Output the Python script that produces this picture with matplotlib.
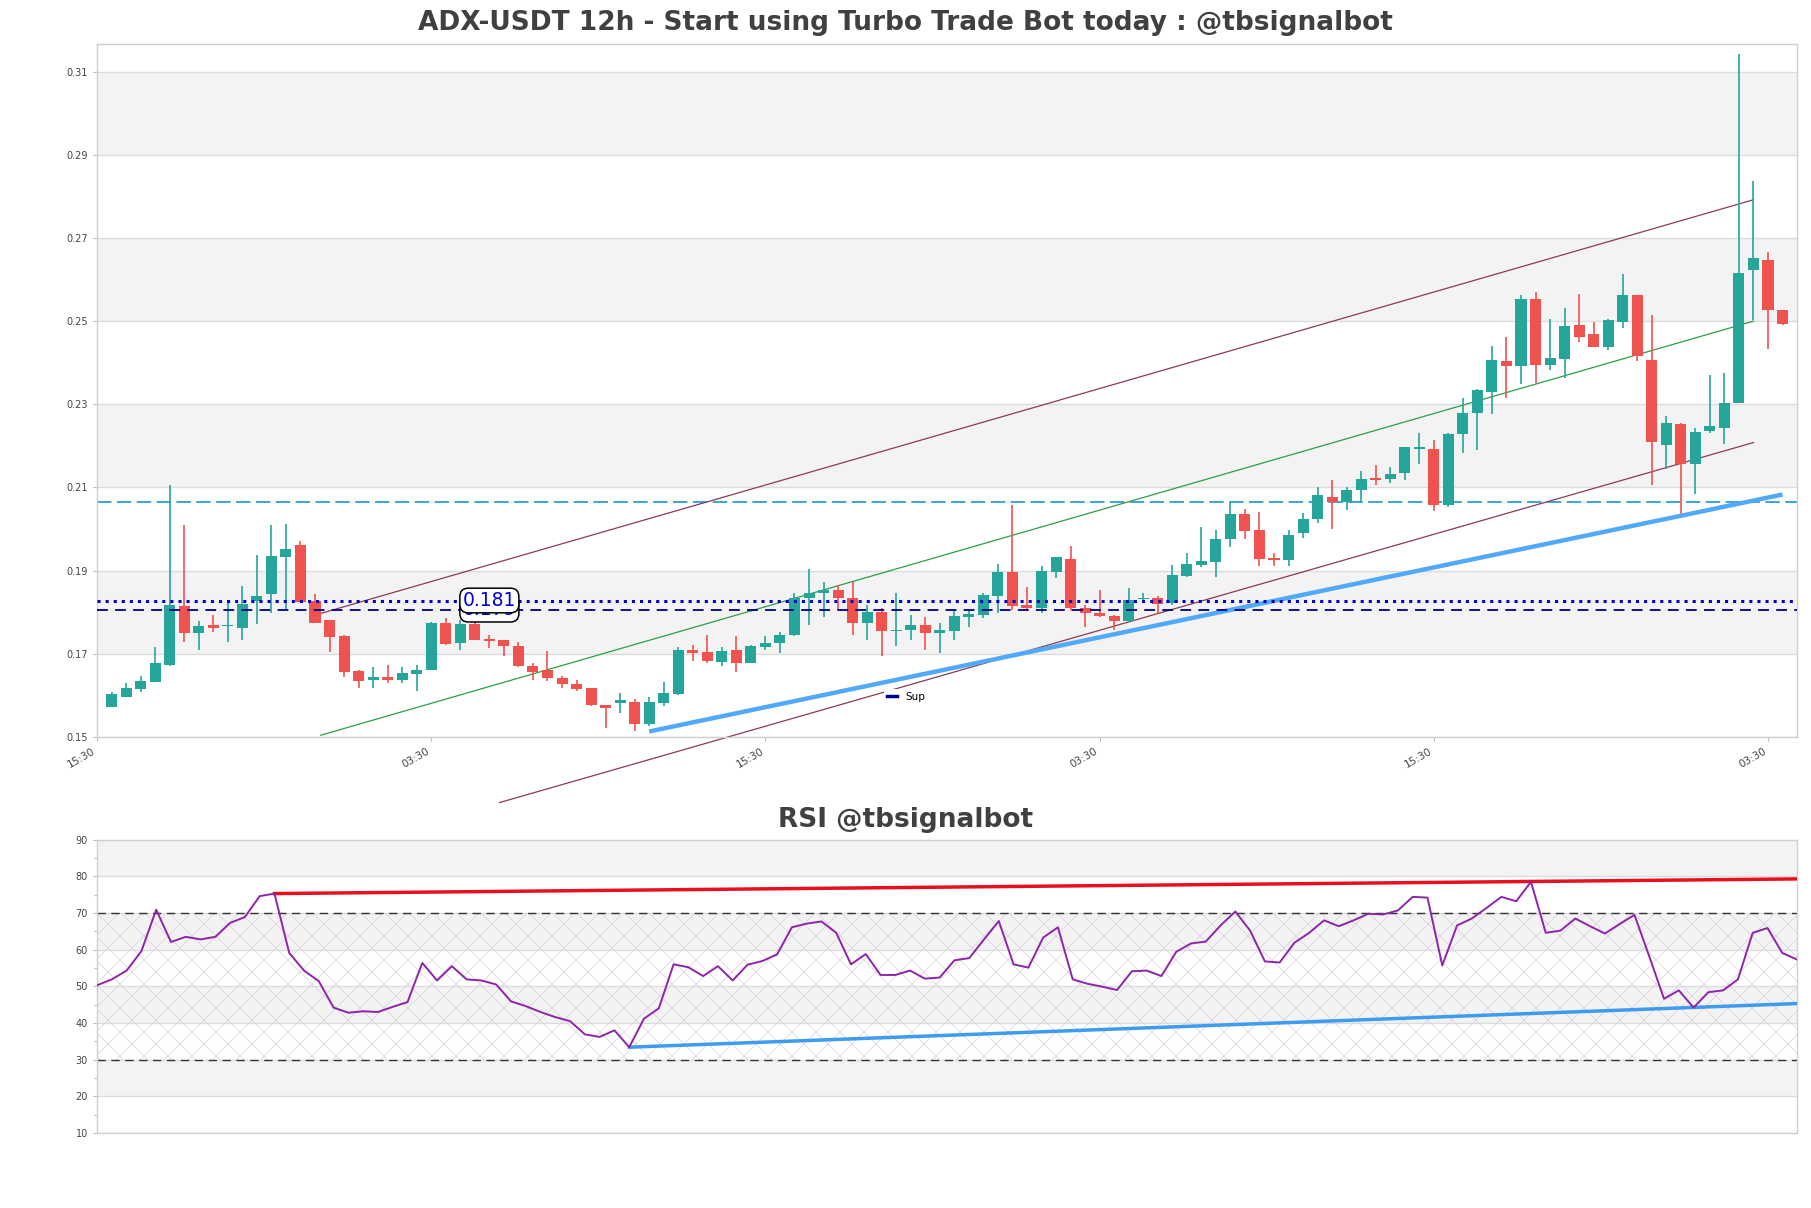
import numpy as np
import matplotlib.pyplot as plt

# 12h candles
opens = [0.1571, 0.1595, 0.1614, 0.1633, 0.1673, 0.1814, 0.1750, 0.1769, 0.1767, 0.1762,
         0.1826, 0.1844, 0.1933, 0.1961, 0.1826, 0.1781, 0.1742, 0.1658, 0.1638, 0.1643,
         0.1638, 0.1651, 0.1661, 0.1773, 0.1726, 0.1771, 0.1735, 0.1733, 0.1718, 0.1671,
         0.1661, 0.1641, 0.1627, 0.1618, 0.1577, 0.1581, 0.1583, 0.1531, 0.1582, 0.1603,
         0.1710, 0.1703, 0.1681, 0.1709, 0.1678, 0.1717, 0.1726, 0.1745, 0.1833, 0.1845,
         0.1853, 0.1833, 0.1773, 0.1801, 0.1755, 0.1758, 0.1769, 0.1751, 0.1755, 0.1789,
         0.1793, 0.1839, 0.1897, 0.1817, 0.1810, 0.1897, 0.1929, 0.1810, 0.1799, 0.1791,
         0.1778, 0.1831, 0.1835, 0.1821, 0.1886, 0.1913, 0.1921, 0.1977, 0.2037, 0.1997,
         0.1930, 0.1926, 0.1990, 0.2025, 0.2077, 0.2065, 0.2094, 0.2121, 0.2121, 0.2134,
         0.2193, 0.2193, 0.2057, 0.2228, 0.2278, 0.2330, 0.2403, 0.2391, 0.2553, 0.2395,
         0.2409, 0.2491, 0.2469, 0.2439, 0.2499, 0.2563, 0.2406, 0.2203, 0.2252, 0.2157,
         0.2236, 0.2244, 0.2302, 0.2622, 0.2647, 0.2527]
highs = [0.1609, 0.1629, 0.1646, 0.1715, 0.2107, 0.2009, 0.1778, 0.1793, 0.1830, 0.1862,
         0.1937, 0.2009, 0.2011, 0.1970, 0.1843, 0.1781, 0.1746, 0.1662, 0.1667, 0.1673,
         0.1669, 0.1673, 0.1777, 0.1785, 0.1782, 0.1781, 0.1745, 0.1733, 0.1729, 0.1677,
         0.1707, 0.1646, 0.1638, 0.1618, 0.1577, 0.1606, 0.1590, 0.1597, 0.1633, 0.1717,
         0.1720, 0.1745, 0.1715, 0.1742, 0.1721, 0.1742, 0.1753, 0.1845, 0.1905, 0.1873,
         0.1865, 0.1873, 0.1817, 0.1810, 0.1845, 0.1793, 0.1789, 0.1773, 0.1805, 0.1805,
         0.1845, 0.1915, 0.2057, 0.1861, 0.1911, 0.1933, 0.1958, 0.1817, 0.1853, 0.1794,
         0.1859, 0.1846, 0.1838, 0.1913, 0.1943, 0.2006, 0.1997, 0.2065, 0.2049, 0.2041,
         0.1942, 0.1997, 0.2038, 0.2102, 0.2118, 0.2101, 0.2139, 0.2155, 0.2149, 0.2198,
         0.2230, 0.2214, 0.2230, 0.2314, 0.2336, 0.2441, 0.2461, 0.2563, 0.2569, 0.2505,
         0.2532, 0.2565, 0.2497, 0.2505, 0.2614, 0.2563, 0.2515, 0.2272, 0.2256, 0.2243,
         0.2370, 0.2375, 0.3142, 0.2837, 0.2666, 0.2527]
lows = [0.1571, 0.1595, 0.1609, 0.1633, 0.1671, 0.1729, 0.1709, 0.1753, 0.1729, 0.1733,
        0.1771, 0.1798, 0.1807, 0.1825, 0.1773, 0.1705, 0.1643, 0.1617, 0.1618, 0.1629,
        0.1630, 0.1611, 0.1661, 0.1721, 0.1709, 0.1733, 0.1713, 0.1694, 0.1669, 0.1637,
        0.1635, 0.1618, 0.1611, 0.1574, 0.1522, 0.1558, 0.1513, 0.1525, 0.1574, 0.1601,
        0.1683, 0.1678, 0.1670, 0.1657, 0.1678, 0.1710, 0.1701, 0.1742, 0.1769, 0.1789,
        0.1805, 0.1746, 0.1734, 0.1695, 0.1718, 0.1734, 0.1710, 0.1702, 0.1734, 0.1765,
        0.1787, 0.1798, 0.1806, 0.1803, 0.1797, 0.1883, 0.1802, 0.1765, 0.1789, 0.1758,
        0.1777, 0.1825, 0.1797, 0.1818, 0.1885, 0.1909, 0.1885, 0.1957, 0.1975, 0.1911,
        0.1911, 0.1911, 0.1979, 0.2014, 0.2001, 0.2046, 0.2062, 0.2105, 0.2110, 0.2117,
        0.2157, 0.2043, 0.2054, 0.2183, 0.2191, 0.2277, 0.2314, 0.2350, 0.2352, 0.2383,
        0.2364, 0.2451, 0.2437, 0.2431, 0.2483, 0.2405, 0.2105, 0.2145, 0.2029, 0.2085,
        0.2232, 0.2204, 0.2302, 0.2503, 0.2434, 0.2491]
closes = [0.1603, 0.1617, 0.1634, 0.1677, 0.1817, 0.1750, 0.1766, 0.1762, 0.1769, 0.1819,
          0.1840, 0.1934, 0.1951, 0.1825, 0.1774, 0.1741, 0.1657, 0.1635, 0.1643, 0.1638,
          0.1653, 0.1662, 0.1775, 0.1723, 0.1771, 0.1733, 0.1731, 0.1718, 0.1670, 0.1657,
          0.1641, 0.1627, 0.1616, 0.1577, 0.1570, 0.1589, 0.1531, 0.1583, 0.1605, 0.1710,
          0.1702, 0.1683, 0.1707, 0.1678, 0.1718, 0.1727, 0.1746, 0.1834, 0.1845, 0.1853,
          0.1833, 0.1774, 0.1801, 0.1755, 0.1758, 0.1769, 0.1751, 0.1757, 0.1790, 0.1795,
          0.1841, 0.1897, 0.1815, 0.1810, 0.1898, 0.1933, 0.1810, 0.1798, 0.1791, 0.1779,
          0.1830, 0.1835, 0.1819, 0.1889, 0.1915, 0.1922, 0.1977, 0.2037, 0.1995, 0.1929,
          0.1926, 0.1986, 0.2025, 0.2081, 0.2065, 0.2095, 0.2121, 0.2119, 0.2133, 0.2197,
          0.2197, 0.2058, 0.2229, 0.2278, 0.2334, 0.2406, 0.2391, 0.2553, 0.2395, 0.2411,
          0.2489, 0.2463, 0.2439, 0.2503, 0.2563, 0.2415, 0.2209, 0.2256, 0.2157, 0.2234,
          0.2248, 0.2302, 0.2615, 0.2652, 0.2527, 0.2493]

rsi = [50.3, 51.9, 54.3, 59.6, 70.9, 62.1, 63.5, 62.8, 63.5, 67.3,
       68.9, 74.6, 75.3, 59.1, 54.3, 51.4, 44.2, 42.8, 43.2, 43.0,
       44.4, 45.7, 56.4, 51.6, 55.5, 51.9, 51.6, 50.5, 45.9, 44.6,
       43.0, 41.6, 40.5, 36.9, 36.2, 38.0, 33.4, 41.2, 44.0, 56.0,
       55.2, 52.8, 55.5, 51.6, 55.9, 56.9, 58.7, 66.1, 67.1, 67.7,
       64.6, 56.0, 58.8, 53.1, 53.1, 54.3, 52.1, 52.4, 57.1, 57.7,
       62.8, 67.8, 56.0, 55.1, 63.3, 66.1, 51.9, 50.7, 49.9, 49.0,
       54.1, 54.3, 52.8, 59.4, 61.7, 62.2, 66.6, 70.4, 65.2, 56.8,
       56.5, 61.9, 64.6, 68.0, 66.4, 68.0, 69.8, 69.6, 70.7, 74.4,
       74.2, 55.7, 66.6, 68.5, 71.4, 74.4, 73.2, 78.5, 64.6, 65.2,
       68.5, 66.4, 64.4, 67.0, 69.5, 58.2, 46.6, 48.9, 44.2, 48.4,
       48.9, 51.9, 64.6, 65.9, 59.1, 57.3]

tick_pos = [-1, 22, 45, 68, 91, 114]
tick_labels = ['15:30', '03:30', '15:30', '03:30', '15:30', '03:30']

# levels and trend lines
res_level = 0.2064
dot_level = 0.1828
sup_level = 0.1806
chan_x = [14.4, 113.0]
chan_upper = [0.1797, 0.2792]
chan_mid = [0.1504, 0.2500]
low_x = [26.7, 113.0]
chan_lower = [0.1342, 0.2208]
sup_x = [37.0, 115.0]
sup_y = [0.1513, 0.2083]
rsi_res_x = [12, 115]
rsi_res_y = [75.3, 79.3]
rsi_sup_x = [36, 115]
rsi_sup_y = [33.4, 45.3]

# figure is saved at 72 dpi (finer hatch), so point sizes are scaled by S
DPI = 72
S = 100 / DPI
plt.rcParams['hatch.linewidth'] = 0.45 * S
up_col = '#26a69a'
dn_col = '#ef5350'
grid_col = '#dcdcdc'
band_col = '#f3f3f3'

o = np.array(opens); h = np.array(highs); l = np.array(lows); c = np.array(closes)
n = len(o)
x = np.arange(n)
cols = [up_col if cc >= oo else dn_col for oo, cc in zip(o, c)]

fig = plt.figure(figsize=(1811 / DPI, 1208 / DPI), dpi=DPI)
ax = fig.add_axes([0.0536, 0.390, 0.9387, 0.5737])
ax2 = fig.add_axes([0.0536, 0.0621, 0.9387, 0.2428])

# ---- price panel
for lo in [0.17, 0.21, 0.25, 0.29]:
    ax.axhspan(lo, lo + 0.02, color=band_col, zorder=0, lw=0)
ax.vlines(x, l, h, color=cols, lw=1.2 * S, zorder=3)
ax.bar(x, np.maximum(np.abs(c - o), 0.0003), bottom=np.minimum(o, c), width=0.76,
       color=cols, zorder=4)

ax.axhline(res_level, color='#2a9fd6', lw=1.3 * S, ls=(0, (8, 3)), zorder=2)
ax.axhline(dot_level, color='#0000cd', lw=2.2 * S, ls=':', zorder=5)
ax.axhline(sup_level, color='#00008b', lw=1.3 * S, ls=(0, (6, 4)), zorder=5, label='Sup')

ax.plot(chan_x, chan_upper, color='#8b3a52', lw=0.9 * S, zorder=2)
ax.plot(chan_x, chan_mid, color='#2e9e44', lw=0.9 * S, zorder=2)
ax.plot(low_x, chan_lower, color='#8b3a52', lw=0.9 * S, zorder=2, clip_on=False)
ax.plot(sup_x, sup_y, color='#52a9f7', lw=3.2 * S, zorder=3, solid_capstyle='butt')

box = dict(boxstyle='round,pad=0.15,rounding_size=0.45', fc='white', ec='black', lw=1.1 * S)
ax.text(26, sup_level, '0.179', color='#0000dd', fontsize=13.5 * S, ha='center', va='center',
        bbox=box, zorder=7)
ax.text(26, dot_level, '0.181', color='#0000dd', fontsize=13.5 * S, ha='center', va='center',
        bbox=box, zorder=8)

leg = ax.legend(loc='center', bbox_to_anchor=(0.476, 0.058), fontsize=7.5 * S, frameon=True,
                facecolor='white', edgecolor='none', framealpha=1, handlelength=1.0,
                borderpad=0.3)
for hl in leg.get_lines():
    hl.set_linestyle('-')
    hl.set_linewidth(2.5 * S)

ax.set_xlim(-1, 116)
ax.set_ylim(0.15, 0.3167)
ax.set_yticks(np.arange(0.15, 0.32, 0.02))
ax.set_yticklabels(['%.2f' % v for v in np.arange(0.15, 0.32, 0.02)])
ax.yaxis.grid(True, color=grid_col, lw=1 * S)
ax.set_axisbelow(True)
ax.set_xticks(tick_pos)
ax.set_xticklabels(tick_labels, rotation=30, ha='right')
ax.tick_params(labelsize=7 * S, labelcolor='#444444', color='#bbbbbb', length=3 * S,
               width=0.8 * S, pad=3.5 * S)
ax.tick_params(axis='x', labelsize=7.5 * S)

fig.text(0.5, 0.981, 'ADX-USDT 12h - Start using Turbo Trade Bot today : @tbsignalbot',
         fontsize=19 * S, fontweight='bold', color='#404040', ha='center', va='center')

# ---- RSI panel
for lo in [20, 40, 60, 80]:
    ax2.axhspan(lo, lo + 10, color=band_col, zorder=0, lw=0)
ax2.axhspan(30, 70, facecolor='none', edgecolor='#d6cddc', hatch='x', lw=0, zorder=1)
ax2.axhline(70, color='#333333', lw=1 * S, ls=(0, (6, 4)), zorder=2)
ax2.axhline(30, color='#333333', lw=1 * S, ls=(0, (6, 4)), zorder=2)
ax2.plot(np.arange(len(rsi)), rsi, color='#8e24aa', lw=1.4 * S, zorder=4)
ax2.plot(rsi_res_x, rsi_res_y, color='#e8101e', lw=2.5 * S, zorder=3)
ax2.plot(rsi_sup_x, rsi_sup_y, color='#3d9cf0', lw=2.5 * S, zorder=3)

ax2.set_xlim(0, len(rsi) - 1)
ax2.set_ylim(10, 90)
ax2.set_yticks(range(10, 91, 10))
ax2.set_yticks(range(15, 90, 10), minor=True)
ax2.yaxis.grid(True, color=grid_col, lw=1 * S)
ax2.set_axisbelow(True)
ax2.set_xticks([])
ax2.tick_params(labelsize=7 * S, labelcolor='#444444', color='#bbbbbb', length=3 * S,
                width=0.8 * S, pad=3.5 * S)
ax2.tick_params(which='minor', color='#bbbbbb', length=2 * S, width=0.8 * S)

fig.text(0.5, 0.321, 'RSI @tbsignalbot', fontsize=19 * S, fontweight='bold',
         color='#404040', ha='center', va='center')

for a in (ax, ax2):
    for s in a.spines.values():
        s.set_color('#d0d0d0')
        s.set_linewidth(1 * S)

fig.savefig('out.png', dpi=DPI)
